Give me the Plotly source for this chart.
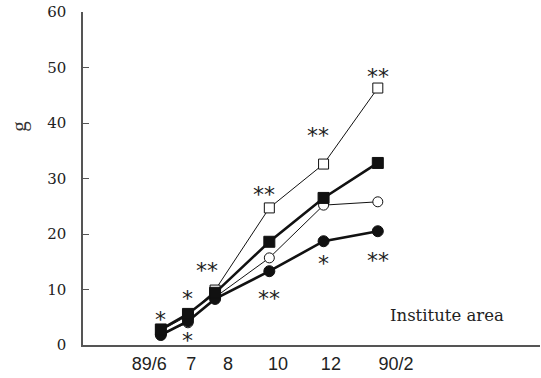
import plotly.graph_objects as go

# ---- data ----
months = [6, 7, 8, 10, 12, 14]
tick_pos = [5.57, 7.12, 8.48, 10.32, 12.27, 14.67]
tick_text = ["89/6", "7", "8", "10", "12", "90/2"]

open_square = [2.6, 5.3, 9.9, 24.7, 32.6, 46.3]
filled_square = [2.8, 5.6, 9.4, 18.6, 26.5, 32.8]
open_circle = [2.0, 4.0, 8.6, 15.7, 25.2, 25.8]
filled_circle = [1.8, 4.3, 8.3, 13.3, 18.7, 20.5]

sig_x = [6, 7, 7, 7.7, 9.8, 10, 11.8, 12, 14, 14]
sig_y = [5.2, 9.0, 1.3, 13.9, 27.7, 9.0, 38.2, 15.3, 49.0, 15.7]
sig_text = ["*", "*", "*", "**", "**", "**", "**", "*", "**", "**"]

y_ticks = [0, 10, 20, 30, 40, 50, 60]

fig = go.Figure()

def add(y, symbol, fill, width, size):
    fig.add_trace(go.Scatter(
        x=months, y=y, mode="lines+markers",
        line=dict(color="#111111", width=width),
        marker=dict(symbol=symbol, size=size, color=fill,
                    line=dict(color="#111111", width=1)),
        showlegend=False, cliponaxis=False))

add(open_square, "square", "white", 1, 10)
add(open_circle, "circle", "white", 1, 10)
add(filled_circle, "circle", "#111111", 2.6, 11)
add(filled_square, "square", "#111111", 2.6, 11)

for x, y, t in zip(sig_x, sig_y, sig_text):
    fig.add_annotation(x=x, y=y, text=t, showarrow=False, yshift=-3,
                       font=dict(family="DejaVu Sans", size=22, color="#222222"))

fig.add_annotation(x=16.55, y=5.4, text="Institute area", showarrow=False,
                   font=dict(family="DejaVu Serif", size=16.5, color="#222222"))

fig.add_annotation(x=-0.17, xref="paper", y=39.4, yref="y", text="g", textangle=-90,
                   showarrow=False,
                   font=dict(family="Liberation Serif", size=21, color="#333333"))

fig.update_layout(
    width=541, height=378,
    margin=dict(l=83, r=1, t=12, b=33),
    plot_bgcolor="white", paper_bgcolor="white",
)
fig.update_xaxes(range=[3.13, 19.98], tickmode="array", tickvals=tick_pos, ticktext=tick_text,
                 showgrid=False, zeroline=False, showline=True, linecolor="#555555", linewidth=1.5,
                 ticks="", ticklabelstandoff=2,
                 tickfont=dict(family="Liberation Sans Narrow, Liberation Sans", size=18, color="#222222"))
fig.update_yaxes(range=[0, 60], tickmode="array", tickvals=y_ticks,
                 showgrid=False, zeroline=False, showline=True, linecolor="#555555", linewidth=1.5,
                 ticks="inside", ticklen=6, tickcolor="#555555", tickwidth=1.2,
                 ticklabelstandoff=12,
                 tickfont=dict(family="DejaVu Serif", size=15, color="#222222"))

fig.write_html("out.html")
